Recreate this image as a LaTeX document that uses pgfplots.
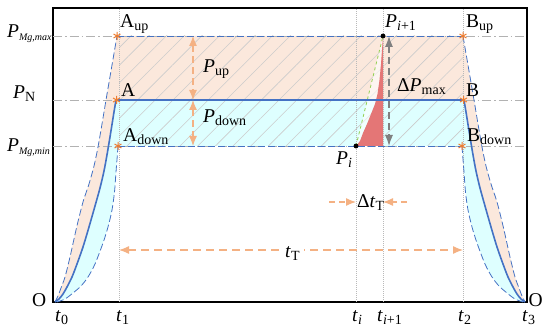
\documentclass[border=0pt]{standalone}
\usepackage{pgfplots}
\pgfplotsset{compat=1.18}
\usepackage{fontspec}
\setmainfont{Liberation Serif}
\usetikzlibrary{arrows.meta,patterns.meta}
\definecolor{peach}{RGB}{251,232,220}
\definecolor{lcyan}{RGB}{222,255,255}
\definecolor{myblue}{RGB}{68,114,196}
\definecolor{myorange}{RGB}{237,125,49}
\definecolor{arrorange}{RGB}{244,177,131}
\definecolor{myred}{RGB}{228,118,118}
\definecolor{mygreen}{RGB}{146,208,80}
\newcommand{\sub}[1]{\raisebox{-0.25ex}{\fontsize{14}{15}\selectfont #1}}
\newcommand{\ssub}[1]{\raisebox{-0.3ex}{\fontsize{10}{11}\selectfont #1}}
\tikzset{lab/.style={font=\fontsize{19.5}{21}\selectfont, inner sep=0pt, anchor=base west}}
\begin{document}
\begin{tikzpicture}
\begin{axis}[scale only axis, width=474pt, height=294pt,
  xmin=0, xmax=474, ymin=0, ymax=294, ticks=none, clip=false,
  axis line style={line width=1.8pt, black}]
% peach band (upper dashed to solid)
\addplot[fill=peach, draw=none] coordinates {
 (2,0) (5,6) (8,14) (12,25) (17,45) (23.7,75) (30,100) (36,118) (41,136) (45,155) (49,178) (53,202) (58.5,234) (64,266)
 (410,266) (415.5,234) (421,202) (425,178) (429,155) (433,136) (438,118) (444,100) (450.3,75) (457,45) (462,25) (466,14) (469,6) (472,0)
 (468,3) (464,8) (460,15) (455,25) (450,38) (444,55) (438,75) (432,96) (427,114) (423,131) (419.5,150) (416.2,170) (413,190) (411,202)
 (63,202) (61,190) (57.8,170) (54.5,150) (51,131) (47,114) (42,96) (36,75) (30,55) (24,38) (19,25) (14,15) (10,8) (6,3) (2,0)} -- cycle;
% cyan band (solid to lower dashed)
\addplot[fill=lcyan, draw=none] coordinates {
 (2,0) (6,3) (10,8) (14,15) (19,25) (24,38) (30,55) (36,75) (42,96) (47,114) (51,131) (54.5,150) (57.8,170) (61,190) (63,202)
 (411,202) (413,190) (416.2,170) (419.5,150) (423,131) (427,114) (432,96) (438,75) (444,55) (450,38) (455,25) (460,15) (464,8) (468,3) (472,0)
 (470,0) (462,3) (454,9) (446,16) (439,25) (432,38) (424,59) (419,75) (415,92) (412.5,110) (411,130) (409.8,145) (409,156)
 (65,156) (64.2,145) (63,130) (61.5,110) (59,92) (55,75) (50,59) (42,38) (35,25) (28,16) (20,9) (12,3) (4,0)} -- cycle;
% hatching
\addplot[draw=none, pattern={Lines[angle=45,distance=12.5pt,line width=0.6pt]}, pattern color=black!20]
 coordinates {(66,156) (410,156) (410,266) (66,266)} -- cycle;
% pale region between chord and curve
\addplot[fill=white, fill opacity=0.6, draw=none] coordinates {
 (303,156) (330,266) (329,252) (328,238) (326.5,222) (324.5,208) (322,198) (318,188) (314,178) (310,169) (307,161) (303,156)} -- cycle;
% red region
\addplot[fill=myred, draw=none] coordinates {
 (303,156) (307,161) (310,169) (314,178) (318,188) (322,198) (324.5,208) (326.5,222) (328,238) (329,252) (330,266) (330,156)} -- cycle;
% grid lines
\foreach \yy in {266,202,156}{
 \edef\tmp{\noexpand\draw[gray!60, line width=0.7pt, dash pattern=on 9pt off 3pt on 1.5pt off 3pt] (axis cs:0,\yy) -- (axis cs:474,\yy);}\tmp}
\foreach \xx in {66,303,330,410}{
 \edef\tmp{\noexpand\draw[gray!55, line width=0.6pt, dash pattern=on 1pt off 1pt] (axis cs:\xx,0) -- (axis cs:\xx,294);}\tmp}
% chord
\addplot[mygreen, dashed, line width=0.8pt] coordinates {(303,156) (330,266)};
% blue lines
\addplot[myblue, line width=0.8pt, dash pattern=on 7pt off 3pt] coordinates {(64,266) (410,266)};
\addplot[myblue, line width=0.8pt, dash pattern=on 7pt off 3pt] coordinates {(65,156) (409,156)};
\addplot[myblue, line width=1.6pt] coordinates {(63,202) (411,202)};
% curves left
\addplot[myblue, line width=0.8pt, dash pattern=on 7pt off 3pt, smooth] coordinates {
 (2,0) (5,6) (8,14) (12,25) (17,45) (23.7,75) (30,100) (36,118) (41,136) (45,155) (49,178) (53,202) (58.5,234) (64,266)};
\addplot[myblue, line width=1.6pt, smooth] coordinates {
 (2,0) (6,3) (10,8) (14,15) (19,25) (24,38) (30,55) (36,75) (42,96) (47,114) (51,131) (54.5,150) (57.8,170) (61,190) (63,202)};
\addplot[myblue, line width=0.8pt, dash pattern=on 7pt off 3pt, smooth] coordinates {
 (4,0) (12,3) (20,9) (28,16) (35,25) (42,38) (50,59) (55,75) (59,92) (61.5,110) (63,130) (64.2,145) (65,156)};
% curves right
\addplot[myblue, line width=0.8pt, dash pattern=on 7pt off 3pt, smooth] coordinates {
 (410,266) (415.5,234) (421,202) (425,178) (429,155) (433,136) (438,118) (444,100) (450.3,75) (457,45) (462,25) (466,14) (469,6) (472,0)};
\addplot[myblue, line width=1.6pt, smooth] coordinates {
 (411,202) (413,190) (416.2,170) (419.5,150) (423,131) (427,114) (432,96) (438,75) (444,55) (450,38) (455,25) (460,15) (464,8) (468,3) (472,0)};
\addplot[myblue, line width=0.8pt, dash pattern=on 7pt off 3pt, smooth] coordinates {
 (409,156) (409.8,145) (411,130) (412.5,110) (415,92) (419,75) (424,59) (432,38) (439,25) (446,16) (454,9) (462,3) (470,0)};
% arrows
\draw[arrorange, line width=1.2pt, dash pattern=on 7pt off 4pt, {Latex[length=10pt,width=8pt]}-{Latex[length=10pt,width=8pt]}] (axis cs:140,266) -- (axis cs:140,202);
\draw[arrorange, line width=1.2pt, dash pattern=on 7pt off 4pt, {Latex[length=10pt,width=8pt]}-{Latex[length=10pt,width=8pt]}] (axis cs:140,202) -- (axis cs:140,156);
\draw[arrorange, line width=1.2pt, dash pattern=on 8pt off 5pt, {Latex[length=10pt,width=8pt]}-{Latex[length=10pt,width=8pt]}] (axis cs:66,52) -- (axis cs:410,52);
\draw[arrorange, line width=1.2pt, dash pattern=on 6pt off 4pt, -{Latex[length=10pt,width=8pt]}] (axis cs:276,100) -- (axis cs:303,100);
\draw[arrorange, line width=1.2pt, dash pattern=on 6pt off 4pt, -{Latex[length=10pt,width=8pt]}] (axis cs:354,100) -- (axis cs:330,100);
\draw[gray, line width=1.2pt, dash pattern=on 7pt off 4pt, {Latex[length=11pt,width=8pt]}-{Latex[length=11pt,width=8pt]}] (axis cs:336,266) -- (axis cs:336,156);
% markers
\addplot[only marks, mark=asterisk, mark size=4pt, myorange, mark options={line width=1pt}] coordinates {
 (64,266) (63.5,202) (65,156) (410,266) (410.5,202) (409,156)};
\addplot[only marks, mark=*, mark size=2.2pt, black] coordinates {(303,156) (330,266)};
% labels
\node[lab] at (axis cs:67,274) {A\sub{up}};
\node[lab] at (axis cs:68,205) {A};
\node[lab] at (axis cs:70,160) {A\sub{down}};
\node[lab] at (axis cs:413,274) {B\sub{up}};
\node[lab] at (axis cs:413,205) {B};
\node[lab] at (axis cs:414,160) {B\sub{down}};
\node[lab] at (axis cs:332,274) {\itshape P\sub{i\upshape+1}};
\node[lab] at (axis cs:283,137) {\itshape P\sub{i}};
\node[lab] at (axis cs:344,210) {Δ\textit{P}\sub{max}};
\node[lab] at (axis cs:150,229) {\textit{P}\sub{up}};
\node[lab] at (axis cs:150,179) {\textit{P}\sub{down}};
\node[lab] at (axis cs:304,94) {Δ\textit{t}\sub{T}};
\node[lab, fill=white, inner xsep=4pt, inner ysep=2pt] at (axis cs:228,44) {\textit{t}\sub{T}};
\node[lab] at (axis cs:2,-20) {\textit{t}\sub{0}};
\node[lab] at (axis cs:63,-20) {\textit{t}\sub{1}};
\node[lab] at (axis cs:299,-20) {\textit{t}\sub{\textit{i}}};
\node[lab] at (axis cs:324,-20) {\textit{t}\sub{\textit{i}+1}};
\node[lab] at (axis cs:405,-20) {\textit{t}\sub{2}};
\node[lab] at (axis cs:469,-20) {\textit{t}\sub{3}};
\node[lab] at (axis cs:-21,-5) {O};
\node[lab] at (axis cs:475.5,-5) {O};
\node[lab] at (axis cs:-46,264) {\textit{P}\ssub{\itshape Mg,max}};
\node[lab] at (axis cs:-40,203) {\textit{P}\sub{N}};
\node[lab] at (axis cs:-46,150) {\textit{P}\ssub{\itshape Mg,min}};
\end{axis}
\pgfresetboundingbox
\path[use as bounding box] (-53pt,-24pt) rectangle (490pt,302pt);
\end{tikzpicture}
\end{document}
